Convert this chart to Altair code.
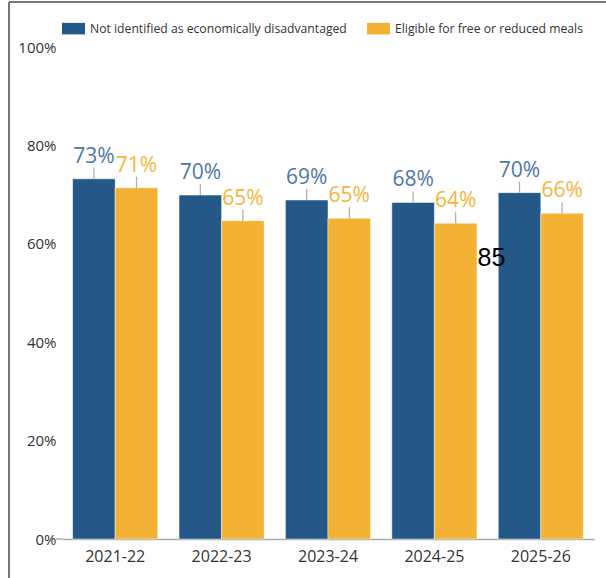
import altair as alt
import pandas as pd

years = ["2021-22", "2022-23", "2023-24", "2024-25", "2025-26"]
series = ["Not identified as economically disadvantaged", "Eligible for free or reduced meals"]
not_disadv = [73.2, 69.9, 68.9, 68.4, 70.4]
frl = [71.4, 64.7, 65.2, 64.2, 66.2]
bar_colors = ["#245886", "#f3b234"]
label_colors = ["#4c78a6", "#f5b53c"]

rows = []
for i, y in enumerate(years):
    rows.append({"year": y, "series": series[0], "value": not_disadv[i] / 100})
    rows.append({"year": y, "series": series[1], "value": frl[i] / 100})
df = pd.DataFrame(rows)

W, H = 532, 492

xenc = alt.X("year:N", sort=years,
             scale=alt.Scale(paddingInner=0.2, paddingOuter=0.1),
             axis=alt.Axis(title=None, labelAngle=0, labelFontSize=16, labelColor="#333333",
                           labelFont="Open Sans", ticks=False, domain=True, domainColor="#aaaaaa",
                           domainWidth=1.5, labelPadding=9))
yenc = alt.Y("value:Q", scale=alt.Scale(domain=[0, 1]),
             axis=alt.Axis(title=None, format=".0%", values=[0, 0.2, 0.4, 0.6, 0.8, 1.0],
                           labelFontSize=15, labelColor="#333333", labelFont="Open Sans",
                           ticks=False, domain=False, grid=False, labelPadding=6))
xoff = alt.XOffset("series:N", sort=series)

symbol_path = "M-1,-0.5H1V0.5H-1Z"

bars = alt.Chart(df).mark_bar(stroke="#ffffff", strokeWidth=0.6, strokeOpacity=0.8).encode(
    x=xenc, y=yenc, xOffset=xoff,
    color=alt.Color("series:N", sort=series,
                    scale=alt.Scale(domain=series, range=bar_colors),
                    legend=alt.Legend(title=None, orient="none", direction="horizontal",
                                      legendX=0, legendY=-30, symbolType=symbol_path,
                                      symbolSize=529, symbolStrokeWidth=0, labelFontSize=12.2,
                                      labelFont="Open Sans", labelColor="#333333", labelLimit=0,
                                      columnPadding=20, symbolOffset=0, labelOffset=5)),
)

leaders = alt.Chart(df).mark_rule(color="#aaaaaa", strokeWidth=1.2, y2Offset=-11).encode(
    x=alt.X("year:N", sort=years), xOffset=xoff,
    y="value:Q", y2=alt.Y2("value:Q"),
)

labels = alt.Chart(df).mark_text(fontSize=21, font="Open Sans", dy=-16, baseline="alphabetic").encode(
    x=alt.X("year:N", sort=years), xOffset=xoff,
    y="value:Q",
    text=alt.Text("value:Q", format=".0%"),
    color=alt.Color("series:N", sort=series, scale=alt.Scale(domain=series, range=label_colors), legend=None),
)

stray = alt.Chart(pd.DataFrame({"year": ["2024-25"], "value": [0.555], "t": ["85"]})).mark_text(
    fontSize=25, font="Liberation Sans", color="#000000", dx=57, baseline="alphabetic", align="center"
).encode(x=alt.X("year:N", sort=years), y="value:Q", text="t:N")

zero_tick = alt.Chart(pd.DataFrame({"v": [0]})).mark_rule(color="#aaaaaa", strokeWidth=1.5).encode(
    y="v:Q", x=alt.value(-6), x2=alt.value(0))

frame_left = alt.Chart(pd.DataFrame({"v": [0]})).mark_rule(color="#777777", strokeWidth=2).encode(
    x=alt.value(-53), y=alt.value(-45), y2=alt.value(H + 45))
frame_top = alt.Chart(pd.DataFrame({"v": [0]})).mark_rule(color="#777777", strokeWidth=2).encode(
    x=alt.value(-53), x2=alt.value(W + 20), y=alt.value(-45))

chart = alt.layer(bars, leaders, labels, stray, zero_tick, frame_left, frame_top).resolve_scale(
    color="independent"
).properties(
    width=W, height=H,
    background="#ffffff",
    autosize=alt.AutoSizeParams(type="none"),
    padding={"left": 62, "top": 47, "right": 12, "bottom": 39},
).configure_view(stroke=None)

chart.save("out.html", embed_options={"renderer": "svg", "actions": False})
